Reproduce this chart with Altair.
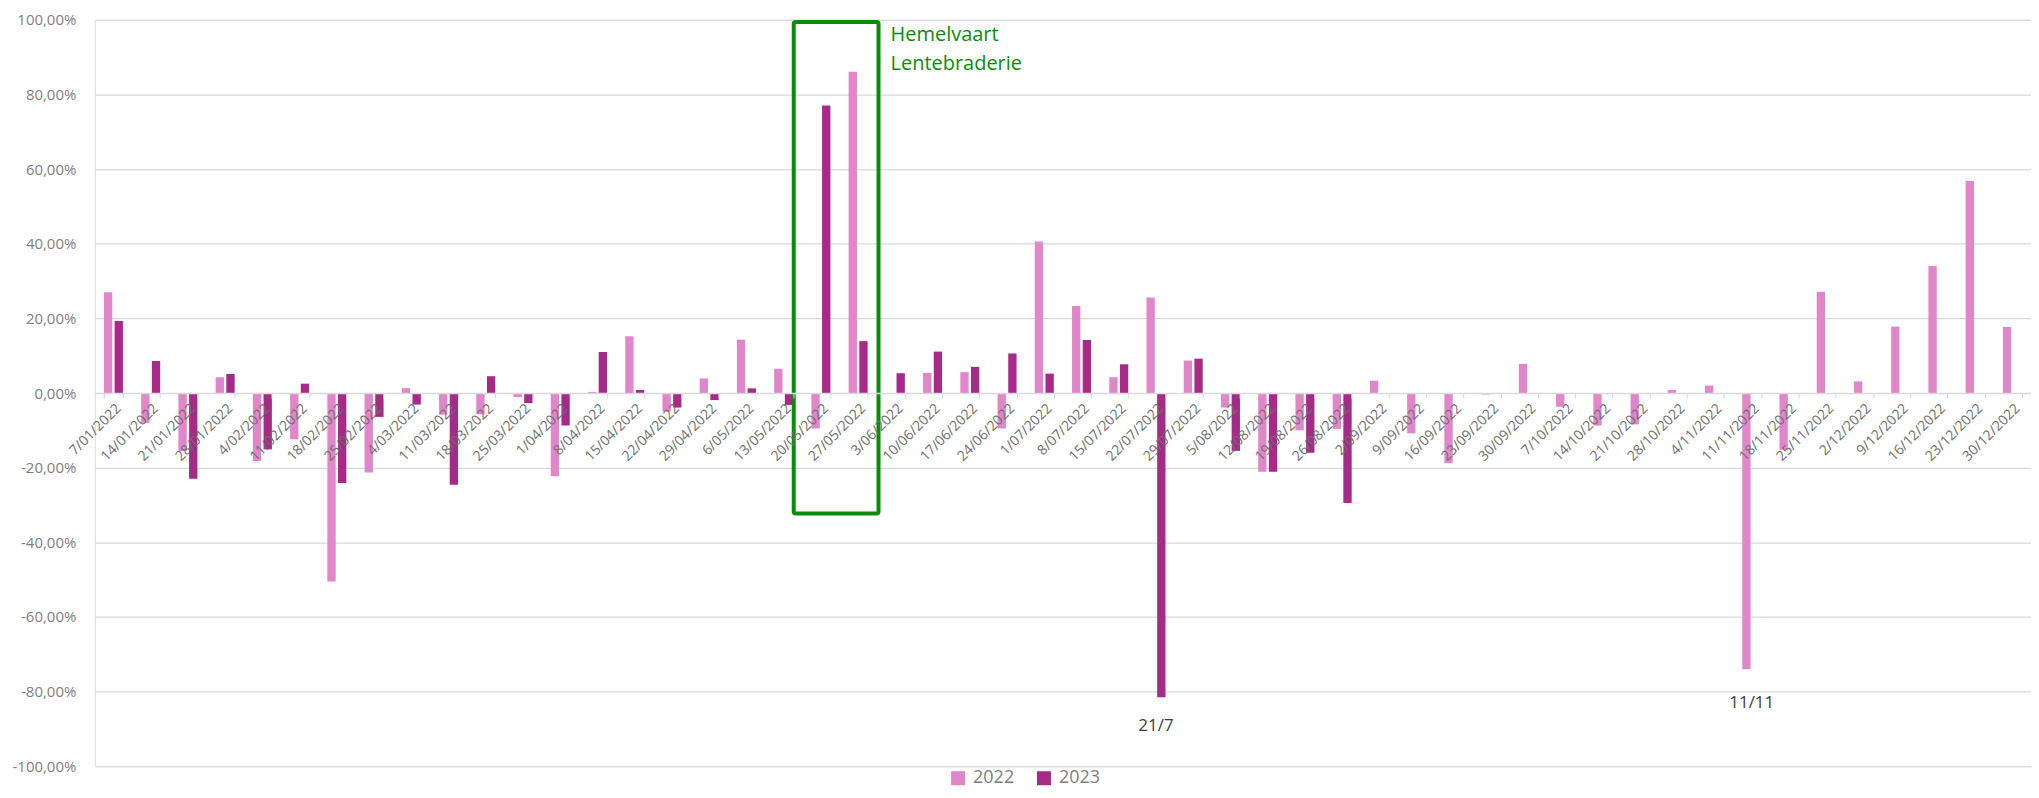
import altair as alt
import pandas as pd

weeks = ["7/01/2022", "14/01/2022", "21/01/2022", "28/01/2022", "4/02/2022", "11/02/2022",
         "18/02/2022", "25/02/2022", "4/03/2022", "11/03/2022", "18/03/2022", "25/03/2022",
         "1/04/2022", "8/04/2022", "15/04/2022", "22/04/2022", "29/04/2022", "6/05/2022",
         "13/05/2022", "20/05/2022", "27/05/2022", "3/06/2022", "10/06/2022", "17/06/2022",
         "24/06/2022", "1/07/2022", "8/07/2022", "15/07/2022", "22/07/2022", "29/07/2022",
         "5/08/2022", "12/08/2022", "19/08/2022", "26/08/2022", "2/09/2022", "9/09/2022",
         "16/09/2022", "23/09/2022", "30/09/2022", "7/10/2022", "14/10/2022", "21/10/2022",
         "28/10/2022", "4/11/2022", "11/11/2022", "18/11/2022", "25/11/2022", "2/12/2022",
         "9/12/2022", "16/12/2022", "23/12/2022", "30/12/2022"]

# percent values
v2022 = [27.0, -8.0, -15.5, 4.2, -18.2, -12.4, -50.5, -21.3, 1.3, -5.8, -5.7, -1.1,
         -22.3, 0.3, 15.2, -5.0, 3.9, 14.3, 6.5, -9.5, 86.1, 0.0, 5.4, 5.6,
         -9.5, 40.6, 23.3, 4.2, 25.6, 8.7, -3.9, -21.1, -10.0, -9.6, 3.3, -10.8,
         -18.8, -0.4, 7.8, -3.7, -8.7, -8.4, 0.8, 2.0, -74.0, -15.2, 27.1, 3.1,
         17.8, 34.0, 56.8, 17.7]
v2023 = [19.3, 8.6, -23.0, 5.1, -15.1, 2.5, -24.1, -6.4, -3.1, -24.6, 4.5, -2.7,
         -8.7, 11.0, 0.8, -3.9, -1.9, 1.25, -3.2, 77.0, 13.9, 5.3, 11.1, 7.0,
         10.6, 5.2, 14.2, 7.7, -81.5, 9.2, -15.5, -21.1, -16.0, -29.5] + [None] * 18

years = ["2022", "2023"]
colors = ["#DF87C8", "#A62A87"]
y_ticks = [-1.0, -0.8, -0.6, -0.4, -0.2, 0.0, 0.2, 0.4, 0.6, 0.8, 1.0]

# annotations
box_weeks = ["20/05/2022", "27/05/2022"]
box_values = [0.994, -0.323]
note_text = ["Hemelvaart\nLentebraderie"]
note_week = ["27/05/2022"]
note_value = [0.942]
low_labels = ["21/7", "11/11"]
low_weeks = ["22/07/2022", "11/11/2022"]
low_values = [-0.892, -0.830]

rows = []
for i, w in enumerate(weeks):
    rows.append({"week": w, "year": "2022", "value": v2022[i] / 100})
    rows.append({"week": w, "year": "2023", "value": None if v2023[i] is None else v2023[i] / 100})
df = pd.DataFrame(rows)

W, H = 1940, 748
FONT = "Open Sans"

x_scale = alt.Scale(domain=weeks, paddingInner=0.49, paddingOuter=0.245)

bars = alt.Chart(df).mark_bar().encode(
    x=alt.X("week:N", scale=x_scale, sort=weeks,
            axis=alt.Axis(title=None, orient="bottom", offset=-H / 2, labelAngle=-45,
                          labelFontSize=14, labelColor="#6E6E6E", labelFont=FONT,
                          labelPadding=3, labelOverlap=False, domainColor="#D9D9D9",
                          domainWidth=1.5, tickColor="#D9D9D9", tickSize=5,
                          tickBand="extent", zindex=1)),
    xOffset=alt.XOffset("year:N", scale=alt.Scale(domain=years, paddingInner=0.22, paddingOuter=0)),
    y=alt.Y("value:Q", scale=alt.Scale(domain=[-1, 1], nice=False),
            axis=alt.Axis(title=None, values=y_ticks, domain=False, ticks=False,
                          labelPadding=19, labelFontSize=15, labelColor="#7F7F7F",
                          labelFont=FONT,
                          labelExpr="replace(replace(format(datum.value, '.2%'), '.', ','), '\u2212', '-')",
                          gridColor="#D9D9D9", gridWidth=1.2)),
    color=alt.Color("year:N", scale=alt.Scale(domain=years, range=colors),
                    legend=alt.Legend(title=None, orient="none", direction="horizontal",
                                      legendX=856, legendY=751, symbolType="square",
                                      symbolSize=196, symbolStrokeWidth=0, labelFontSize=18,
                                      labelColor="#7F7F7F", labelFont=FONT, labelOffset=6,
                                      columnPadding=20, padding=0)),
)

box_df = pd.DataFrame({"w1": [box_weeks[0]], "w2": [box_weeks[1]],
                       "top": [box_values[0]], "bottom": [box_values[1]]})
box = alt.Chart(box_df).mark_rect(filled=False, stroke="#0A8C0A", strokeWidth=4,
                                  cornerRadius=2, xOffset=-17.7, x2Offset=10.9).encode(
    x=alt.X("w1:N", scale=x_scale, bandPosition=0),
    x2=alt.X2("w2:N", bandPosition=1),
    y=alt.Y("top:Q"),
    y2=alt.Y2("bottom:Q"),
)

note_df = pd.DataFrame({"week": note_week, "value": note_value, "label": note_text})
note = alt.Chart(note_df).mark_text(align="left", baseline="alphabetic", dx=23,
                                    fontSize=20, font=FONT, color="#0A8C0A",
                                    lineBreak="\n", lineHeight=29).encode(
    x=alt.X("week:N", scale=x_scale, bandPosition=1),
    y=alt.Y("value:Q"),
    text="label:N",
)

low_df = pd.DataFrame({"week": low_weeks, "value": low_values, "label": low_labels})
low = alt.Chart(low_df).mark_text(align="center", baseline="middle", fontSize=17,
                                  font=FONT, color="#404040").encode(
    x=alt.X("week:N", scale=x_scale),
    y=alt.Y("value:Q"),
    text="label:N",
)

chart = alt.layer(bars, box, note, low).properties(
    width=W, height=H,
    autosize=alt.AutoSizeParams(type="none"),
    padding={"left": 87, "top": 11, "right": 0, "bottom": 23},
).configure_view(stroke=None).configure(font=FONT)

chart.save("out.html", embed_options={"renderer": "svg", "actions": False})
